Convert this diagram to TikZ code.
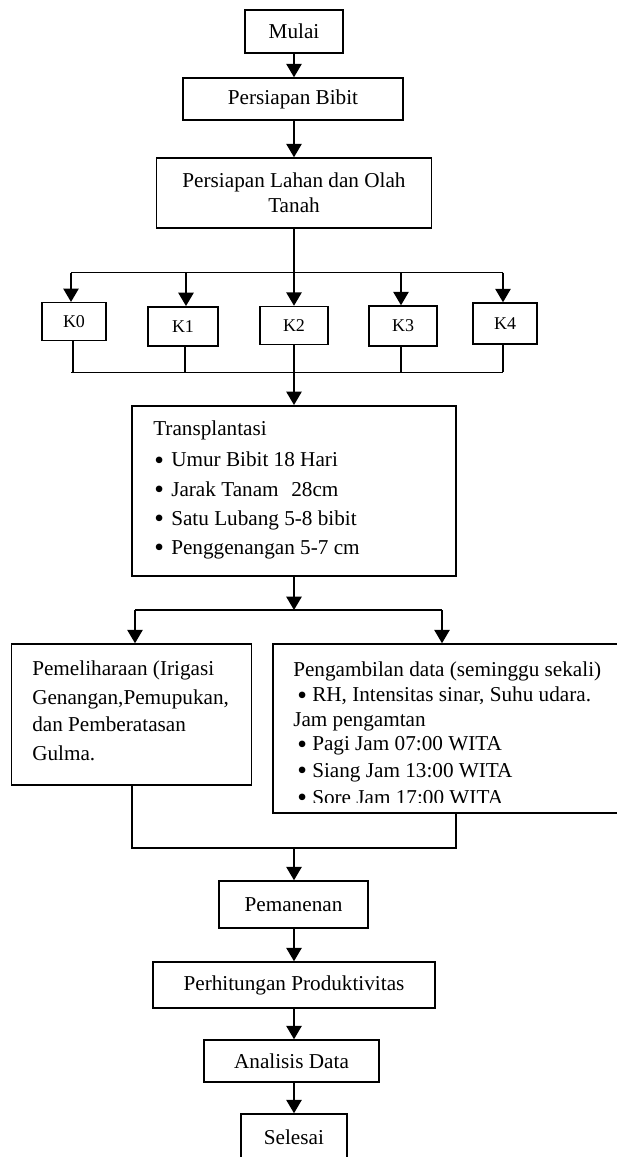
\documentclass[tikz,border=0pt]{standalone}
\usepackage{fontspec}
\setmainfont{Liberation Serif}
\usetikzlibrary{arrows.meta}
\newcommand\fsmain{\fontsize{15.9}{19}\selectfont}
\newcommand\fsk{\fontsize{13.5}{16}\selectfont}
\newcommand\bul[1]{\makebox[#1][l]{\raisebox{-1.8pt}{\scalebox{1.3}{•}}}}
\tikzset{
  px/.style 2 args={minimum width=#1*0.75pt, minimum height=#2*0.75pt},
  box/.style={draw, line width=1.15pt, inner sep=0pt, font=\fsmain},
  kbox/.style={box, font=\fsk},
  txt/.style={anchor=base west, inner sep=0pt, font=\fsmain},
  conn/.style={line width=1.05pt},
  arr/.style={conn, -{Triangle[width=11.5pt,length=10pt]}},
}
\begin{document}
\begin{tikzpicture}[x=0.75pt,y=-0.75pt]
\useasboundingbox (0,0) rectangle (617,1157);
\clip (0,0) rectangle (617,1157);

% top chain
\node[box,px={98}{43}] (mulai) at (294,31.5) {Mulai};
\node[box,px={220}{42}] (bibit) at (293,99) {Persiapan Bibit};
\node[box,px={275}{70},align=center,font=\fontsize{15.9}{18.75}\selectfont] (lahan) at (294,193) {Persiapan Lahan dan Olah\\Tanah};

\coordinate (ax) at (294,0);
\draw[arr] (mulai.south -| ax) -- (bibit.north -| ax);
\draw[arr] (bibit.south -| ax) -- (lahan.north -| ax);

% K boxes
\node[kbox,px={64}{38}] (k0) at (74,321.7) {K0};
\node[kbox,px={70}{39}] (k1) at (183,326.3) {K1};
\node[kbox,px={68}{38}] (k2) at (294,325.5) {K2};
\node[kbox,px={68}{40}] (k3) at (403,326) {K3};
\node[kbox,px={64}{41}] (k4) at (505,323.5) {K4};

\coordinate (t0) at (71,272.7);
\coordinate (t1) at (186,272.7);
\coordinate (t3) at (401,272.7);
\coordinate (t4) at (503,272.7);
\draw[conn] (t0) -- (t4);
\draw[arr] (t0) -- (t0 |- k0.north);
\draw[arr] (t1) -- (t1 |- k1.north);
\draw[arr] (lahan.south -| ax) -- (k2.north -| ax);
\draw[arr] (t3) -- (t3 |- k3.north);
\draw[arr] (t4) -- (t4 |- k4.north);

\coordinate (b0) at (71,372.3);
\coordinate (d0) at (73,372.3);
\coordinate (d1) at (185,372.3);
\coordinate (d2) at (294,372.3);
\coordinate (d3) at (401,372.3);
\coordinate (d4) at (503,372.3);
\draw[conn] (b0) -- (d4);
\draw[conn] (k0.south -| d0) -- (d0);
\draw[conn] (k1.south -| d1) -- (d1);
\draw[conn] (k2.south -| d2) -- (d2);
\draw[conn] (k3.south -| d3) -- (d3);
\draw[conn] (k4.south -| d4) -- (d4);

% Transplantasi
\node[box,px={323.7}{170.3}] (trans) at (294,490.9) {};
\node[txt] (tr0) at (153,435) {Transplantasi};
\node[txt] (tr1) at (154,466.7) {\bul{12.75pt}Umur Bibit 18 Hari};
\node[txt] (tr2) at (154,496) {\bul{12.75pt}Jarak Tanam\hspace{9.5pt}28cm};
\node[txt] (tr3) at (154,525) {\bul{12.75pt}Satu Lubang 5-8 bibit};
\node[txt] (tr4) at (154,554.3) {\bul{12.75pt}Penggenangan 5-7 cm};
\draw[arr] (d2) -- (trans.north -| ax);

% split
\coordinate (sl) at (135,610);
\coordinate (s2) at (294,610);
\coordinate (sr) at (442,610);
\draw[arr] (trans.south -| ax) -- (s2);
\draw[conn] (sl) -- (sr);

\node[box,px={240}{141}] (pem) at (131.7,714.5) {};
\node[txt] (pe0) at (32,675.7) {Pemeliharaan (Irigasi};
\node[txt] (pe1) at (32,704) {Genangan,Pemupukan,};
\node[txt] (pe2) at (32,731.7) {dan Pemberatasan};
\node[txt] (pe3) at (32,760) {Gulma.};

\node[box,px={367}{169}] (peng) at (456.5,728.5) {};
\node[txt] (pg0) at (293,676.7) {Pengambilan data (seminggu sekali)};
\node[txt] (pg1) at (297,701.7) {\bul{11.25pt}RH, Intensitas sinar, Suhu udara.};
\node[txt] (pg2) at (293,726) {Jam pengamtan};
\node[txt] (pg3) at (297,750.7) {\bul{11.25pt}Pagi Jam 07:00 WITA};
\node[txt] (pg4) at (297,777) {\bul{11.25pt}Siang Jam 13:00 WITA};
\begin{scope}
\clip (273,780) rectangle (617,802.5);
\node[txt] (pg5) at (297,804) {\bul{11.25pt}Sore Jam 17:00 WITA};
\end{scope}

\draw[arr] (sl) -- (sl |- pem.north);
\draw[arr] (sr) -- (sr |- peng.north);

% merge
\coordinate (m0) at (132,848);
\coordinate (m2) at (294,848);
\coordinate (m1) at (456,848);
\draw[conn] (pem.south -| m0) -- (m0) -- (m1) -- (peng.south -| m1);

% bottom chain
\node[box,px={149}{47}] (panen) at (293.5,904.5) {Pemanenan};
\node[box,px={282}{46}] (perh) at (294,985) {Perhitungan Produktivitas};
\node[box,px={175}{42}] (anal) at (291.5,1061) {Analisis Data};
\node[box,px={105.7}{46}] (sel) at (293.9,1137) {Selesai};

\draw[arr] (m2) -- (panen.north -| ax);
\draw[arr] (panen.south -| ax) -- (perh.north -| ax);
\draw[arr] (perh.south -| ax) -- (anal.north -| ax);
\draw[arr] (anal.south -| ax) -- (sel.north -| ax);
\end{tikzpicture}
\end{document}
